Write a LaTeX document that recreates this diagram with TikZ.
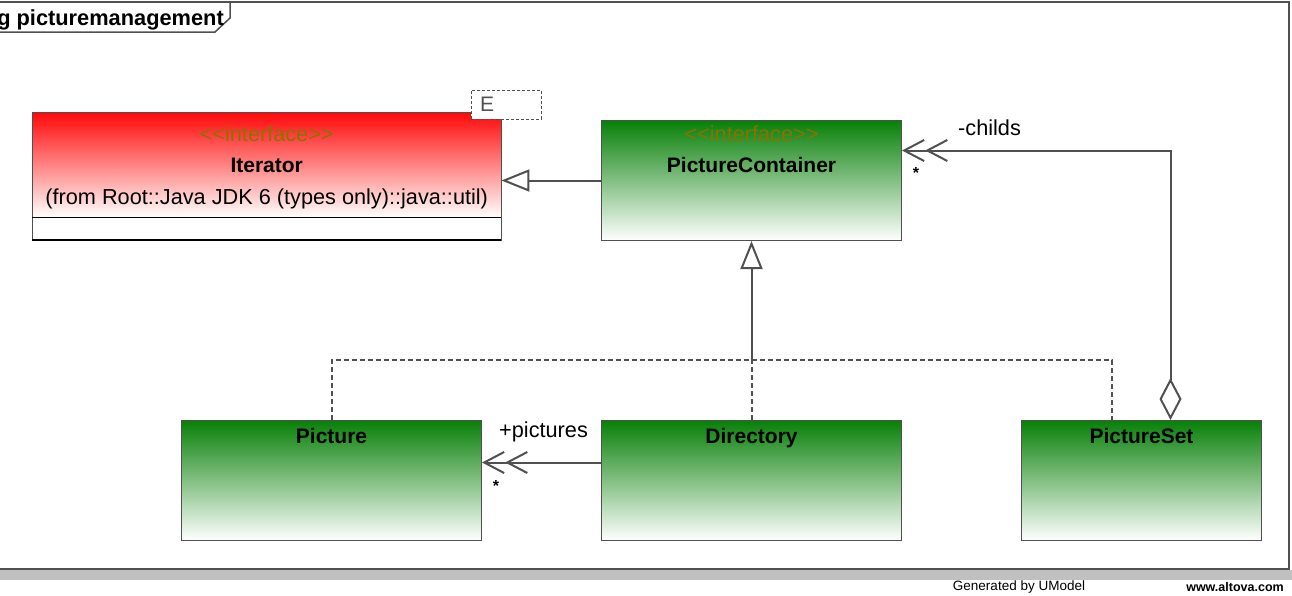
\documentclass[tikz,border=0pt]{standalone}
\usepackage{fontspec}
\setmainfont{Liberation Sans}
\usetikzlibrary{positioning,arrows.meta,calc}
\definecolor{umlgreen}{RGB}{8,128,8}
\definecolor{umlred}{RGB}{255,8,8}
\definecolor{stereo}{RGB}{135,115,0}
\definecolor{edge}{RGB}{80,80,80}
\definecolor{bar}{RGB}{192,192,192}

\begin{document}
\begin{tikzpicture}[x=1pt,y=-1pt,
	box/.style={draw=edge,line width=1pt,inner sep=0pt,anchor=north west,top color=umlgreen,bottom color=white,minimum height=120pt},
	txt/.style={inner sep=0pt,text height=16pt,text depth=5pt,font=\fontsize{21.7}{25}\selectfont},
	ttl/.style={txt,font=\bfseries\fontsize{21}{25}\selectfont},
	st/.style={txt,text=stereo},
	mult/.style={inner sep=0pt,font=\bfseries\fontsize{16}{18}\selectfont},
	con/.style={draw=edge,line width=2pt},
	dsh/.style={con,dash pattern=on 5pt off 3pt},
	barbs/.style={-{Straight Barb[length=20pt,width=21pt]Straight Barb[length=20pt,width=21pt]}}
]
\useasboundingbox (0,0) rectangle (1292,595);
% frame and footer
\fill[bar] (0,570) rectangle (1292,580);
\draw[edge,line width=1.5pt] (-2,2) rectangle (1289,569);
\draw[edge,line width=1.5pt] (-2,32) -- (215,32) -- (230,18) -- (230,2);
\node[anchor=base east,inner sep=0pt,font=\bfseries\fontsize{21.8}{25}\selectfont] (ttl) at (224,25) {pkg picturemanagement};
\node[inner sep=0pt,font=\fontsize{13.5}{15}\selectfont] (gen) at (1019,587) {Generated by UModel};
\node[inner sep=0pt,font=\bfseries\fontsize{12.5}{15}\selectfont] (www) at (1235,587) {www.altova.com};

% Iterator
\node[anchor=north west,inner sep=0pt,minimum width=469pt,minimum height=128pt] (it) at (32,112) {};
\shade[top color=umlred,bottom color=white] (it.north west) rectangle ([yshift=23pt]it.south east);
\draw[edge,line width=1pt] (it.north west) rectangle (it.south east);
\draw[black,line width=1.5pt] ([yshift=23pt]it.south west) -- ([yshift=23pt]it.south east);
\draw[black,line width=2pt] (it.south west) -- (it.south east);
\node[st,below=13pt of it.north] (itst) {<\kern0pt<interface>\kern0pt>};
\node[ttl,below=10pt of itst] (itname) {Iterator};
\node[txt,below=10pt of itname] (itfrom) {(from Root::Java JDK 6 (types only)::java::util)};
\node[draw=edge,dash pattern=on 3pt off 2pt,fill=white,anchor=north west,inner xsep=9pt,inner ysep=0pt,
	text width=52pt,minimum height=29pt,text=edge,font=\fontsize{21}{25}\selectfont] (eb) at (471,90) {E};

% classes
\node[box,minimum width=300pt] (pc) at (601,120) {};
\node[st,below=5pt of pc.north] (pcst) {<\kern0pt<interface>\kern0pt>};
\node[ttl,below=10pt of pcst] (pcname) {PictureContainer};

\node[box,minimum width=300pt] (pic) at (181,420) {};
\node[ttl,below=7.5pt of pic.north] (picname) {Picture};
\node[box,minimum width=300pt] (dir) at (601,420) {};
\node[ttl,below=7.5pt of dir.north] (dirname) {Directory};
\node[box,minimum width=240pt] (ps) at (1021,420) {};
\node[ttl,below=7.5pt of ps.north] (psname) {PictureSet};

% realization
\draw[con,-{Triangle[open,length=28pt,width=22pt]}] (pc.west) -- (pc.west -| it.east);
\coordinate (jn) at ($(pc.south)+(0,119)$);
\draw[dsh] (pic.north) |- (jn) -| ([xshift=-30pt]ps.north);
\draw[dsh] (dir.north) -- (jn);
\draw[con,-{Triangle[open,length=28pt,width=22pt]}] (jn) -- (pc.south);

% associations
\coordinate (pend) at ([yshift=18pt]dir.west -| pic.east);
\draw[con,barbs] ([yshift=18pt]dir.west) -- (pend);
\node[txt,above right=20pt and 17pt of pend] (plbl) {+pictures};
\node[mult] (pstar) at ([xshift=14pt,yshift=-23pt]pend) {*};

\coordinate (cend) at ([yshift=30pt]pc.east);
\draw[con,{Diamond[open,length=42pt,width=22pt]}-{Straight Barb[length=20pt,width=21pt]Straight Barb[length=20pt,width=21pt]}] ([xshift=29pt]ps.north) |- (cend);
\node[txt,above right=10pt and 56pt of cend] (clbl) {-childs};
\node[mult] (cstar) at ([xshift=14pt,yshift=-22pt]cend) {*};
\end{tikzpicture}
\end{document}
